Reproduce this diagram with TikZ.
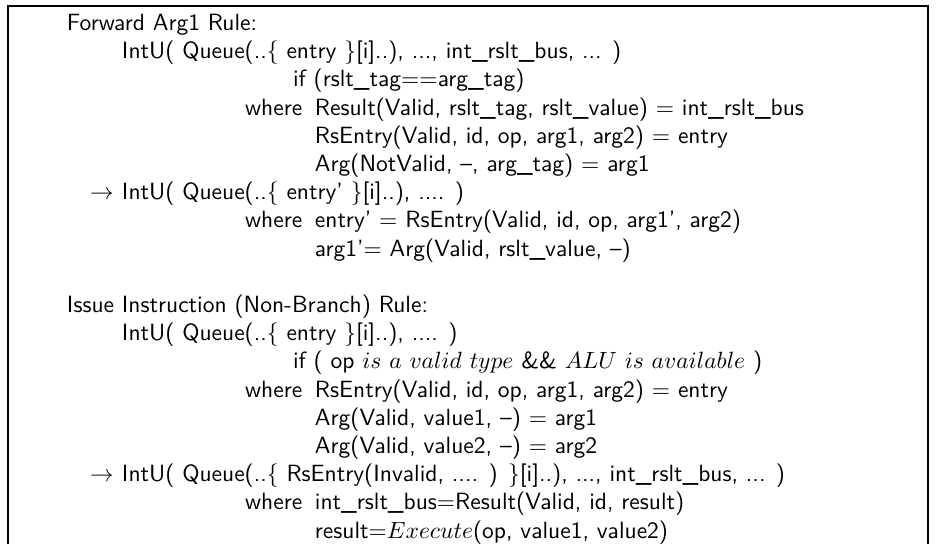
\documentclass[tikz,border=0pt]{standalone}
\begin{document}
\begin{tikzpicture}[x=1pt,y=1pt,
  txt/.style={inner sep=0pt, outer sep=0pt, anchor=base west, font=\sffamily},
  frame/.style={line width=0.85pt}]
\useasboundingbox (0,0) rectangle (398.7,-231.5);
\draw[frame] (3.5,-231.5) -- (3.5,-2.4) -- (395,-2.4) -- (395,-231.5);
% columns
\def\cA{28.5}\def\cB{51.9}\def\cArr{38.3}\def\cW{104.3}\def\cIf{124.7}\def\cR{134}
% rule 1
\node[txt] (l0) at (\cA,-13) {Forward Arg1 Rule:};
\node[txt] (l1) at (\cB,-25) {IntU( Queue(..$\{$ entry $\}$[i]..), ..., int\_rslt\_bus, ... )};
\node[txt] (l2) at (\cIf,-37) {if (rslt\_tag$==$arg\_tag)};
\node[txt] (w3) at (\cW,-49) {where};
\node[txt] (l3) at (\cR,-49) {Result(Valid, rslt\_tag, rslt\_value) $=$ int\_rslt\_bus};
\node[txt] (l4) at (\cR,-61) {RsEntry(Valid, id, op, arg1, arg2) $=$ entry};
\node[txt] (l5) at (\cR,-73) {Arg(NotValid, --, arg\_tag) $=$ arg1};
\node[txt] (a6) at (\cArr,-85) {$\rightarrow$};
\node[txt] (l6) at (\cB,-85) {IntU( Queue(..$\{$ entry' $\}$[i]..), .... )};
\node[txt] (w7) at (\cW,-97) {where};
\node[txt] (l7) at (\cR,-97) {entry' $=$ RsEntry(Valid, id, op, arg1', arg2)};
\node[txt] (l8) at (\cR,-109) {arg1'$=$ Arg(Valid, rslt\_value, --)};
% rule 2
\node[txt] (l10) at (\cA,-133) {Issue Instruction (Non-Branch) Rule:};
\node[txt] (l11) at (\cB,-145) {IntU( Queue(..$\{$ entry $\}$[i]..), .... )};
\node[txt] (l12) at (\cIf,-157) {if ( op $is\ a\ valid\ type$ \&\& $ALU\ is\ available$ )};
\node[txt] (w13) at (\cW,-169) {where};
\node[txt] (l13) at (\cR,-169) {RsEntry(Valid, id, op, arg1, arg2) $=$ entry};
\node[txt] (l14) at (\cR,-181) {Arg(Valid, value1, --) $=$ arg1};
\node[txt] (l15) at (\cR,-193) {Arg(Valid, value2, --) $=$ arg2};
\node[txt] (a16) at (\cArr,-205) {$\rightarrow$};
\node[txt] (l16) at (\cB,-205) {IntU( Queue(..$\{$ RsEntry(Invalid, .... ) $\}$[i]..), ..., int\_rslt\_bus, ... )};
\node[txt] (w17) at (\cW,-217) {where};
\node[txt] (l17) at (\cR,-217) {int\_rslt\_bus$=$Result(Valid, id, result)};
\node[txt] (l18) at (\cR,-229) {result$=${$Execute$}(op, value1, value2)};
\end{tikzpicture}
\end{document}
